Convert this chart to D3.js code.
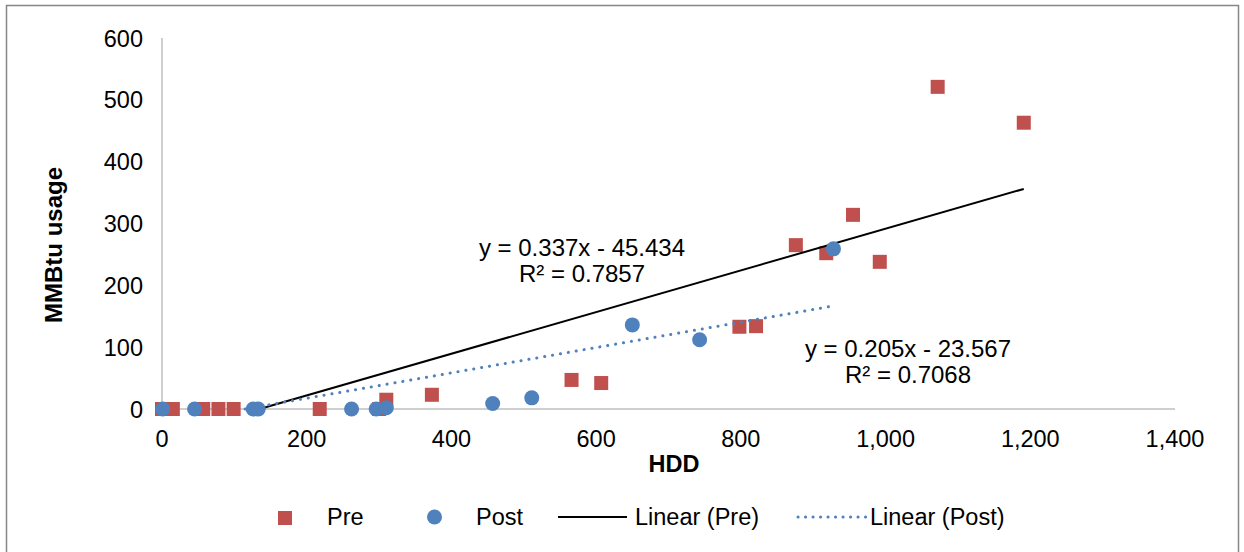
<!DOCTYPE html>
<html><head><meta charset="utf-8">
<script src="https://cdn.jsdelivr.net/npm/d3@7"></script>
<style>body{margin:0;background:#fff}svg{display:block}text{font-family:"Liberation Sans",Arial,sans-serif;fill:#000}</style>
</head><body><svg id="c" width="1244" height="552"></svg>
<script>
const preHDD   = [0, 15, 57, 78, 99, 218, 300, 310, 373, 566, 607, 798, 821, 876, 918, 955, 992, 1072, 1191];
const preUsage = [0, 0, 0, 0, 0, 0, 0, 15, 23, 47, 42, 133, 134, 265, 252, 314, 238, 521, 463];
const postHDD   = [1, 45, 126, 133, 262, 296, 310, 457, 511, 650, 743, 928];
const postUsage = [0, 0, 0, 0, 0, 0, 2, 9, 18, 136, 112, 259];
const trendSlope = [0.337, 0.205];
const trendIntercept = [-45.434, -23.567];
const trendLabels = [["y = 0.337x - 45.434", "R² = 0.7857"], ["y = 0.205x - 23.567", "R² = 0.7068"]];
const xTicks = [0, 200, 400, 600, 800, 1000, 1200, 1400];
const yTicks = [0, 100, 200, 300, 400, 500, 600];
const legendLabels = ["Pre", "Post", "Linear (Pre)", "Linear (Post)"];

const RED = "#C0504D", BLUE = "#4F81BD";
const FS = 23.5;
const svg = d3.select("#c");
svg.append("rect").attr("x",6.5).attr("y",5.5).attr("width",1232).attr("height",560)
  .attr("fill","#fff").attr("stroke","#868686").attr("stroke-width",1.5);

const x = d3.scaleLinear().domain([0,1400]).range([162,1175]);
const y = d3.scaleLinear().domain([0,600]).range([409,38]);

// axes
svg.append("line").attr("x1",x(0)).attr("x2",x(1400)).attr("y1",y(0)).attr("y2",y(0)).attr("stroke","#BFBFBF").attr("stroke-width",1.5);
svg.append("line").attr("x1",x(0)).attr("x2",x(0)).attr("y1",y(0)).attr("y2",y(600)).attr("stroke","#BFBFBF").attr("stroke-width",1.5);

const fmt = d3.format(",");
svg.selectAll(".xt").data(xTicks).join("text").attr("x",d=>x(d)).attr("y",447)
  .attr("text-anchor","middle").attr("font-size",FS).text(d=>fmt(d));
svg.selectAll(".yt").data(yTicks).join("text").attr("x",143).attr("y",d=>y(d)+8.5)
  .attr("text-anchor","end").attr("font-size",FS).text(d=>fmt(d));

svg.append("text").attr("x",674).attr("y",472).attr("text-anchor","middle")
  .attr("font-size",FS).attr("font-weight","bold").text("HDD");
svg.append("text").attr("transform","translate(62,245) rotate(-90)").attr("text-anchor","middle")
  .attr("font-size",FS+0.5).attr("font-weight","bold").text("MMBtu usage");

function trendSeg(i, xs){
  const m = trendSlope[i], b = trendIntercept[i];
  let x0 = d3.min(xs), x1 = d3.max(xs);
  if (m*x0+b < 0) x0 = -b/m;
  return [[x0, m*x0+b],[x1, m*x1+b]];
}
const sq = 14, r = 7.5;
const pre = preHDD.map((h,i)=>[h,preUsage[i]]);
const post = postHDD.map((h,i)=>[h,postUsage[i]]);

svg.append("g").selectAll("rect").data(pre).join("rect")
  .attr("x",d=>x(d[0])-sq/2).attr("y",d=>y(d[1])-sq/2).attr("width",sq).attr("height",sq).attr("fill",RED);
const line = d3.line().x(d=>x(d[0])).y(d=>y(d[1]));
svg.append("path").attr("d",line(trendSeg(0,preHDD))).attr("stroke","#000").attr("stroke-width",2).attr("fill","none");
svg.append("g").selectAll("circle").data(post).join("circle")
  .attr("cx",d=>x(d[0])).attr("cy",d=>y(d[1])).attr("r",r).attr("fill",BLUE);
svg.append("path").attr("d",line(trendSeg(1,postHDD))).attr("stroke",BLUE).attr("stroke-width",3)
  .attr("stroke-dasharray","0.1 7.9").attr("stroke-linecap","round").attr("fill","none");

// trend labels
const lblPos = [[582,256],[908,357]];
trendLabels.forEach((ls,i)=>{
  ls.forEach((t,j)=>svg.append("text").attr("x",lblPos[i][0]).attr("y",lblPos[i][1]+j*26)
    .attr("text-anchor","middle").attr("font-size",24).text(t));
});

// legend
const ly = 517;
svg.append("rect").attr("x",278).attr("y",ly-6).attr("width",14).attr("height",14).attr("fill",RED);
svg.append("circle").attr("cx",434.5).attr("cy",ly).attr("r",7.5).attr("fill",BLUE);
svg.append("line").attr("x1",558).attr("x2",627).attr("y1",ly).attr("y2",ly).attr("stroke","#000").attr("stroke-width",2);
svg.append("line").attr("x1",798).attr("x2",866).attr("y1",ly).attr("y2",ly).attr("stroke",BLUE).attr("stroke-width",3)
  .attr("stroke-dasharray","0.1 7.4").attr("stroke-linecap","round");
const lx = [327, 476, 635, 870];
legendLabels.forEach((t,i)=>svg.append("text").attr("x",lx[i]).attr("y",525).attr("font-size",FS).text(t));
</script></body></html>
